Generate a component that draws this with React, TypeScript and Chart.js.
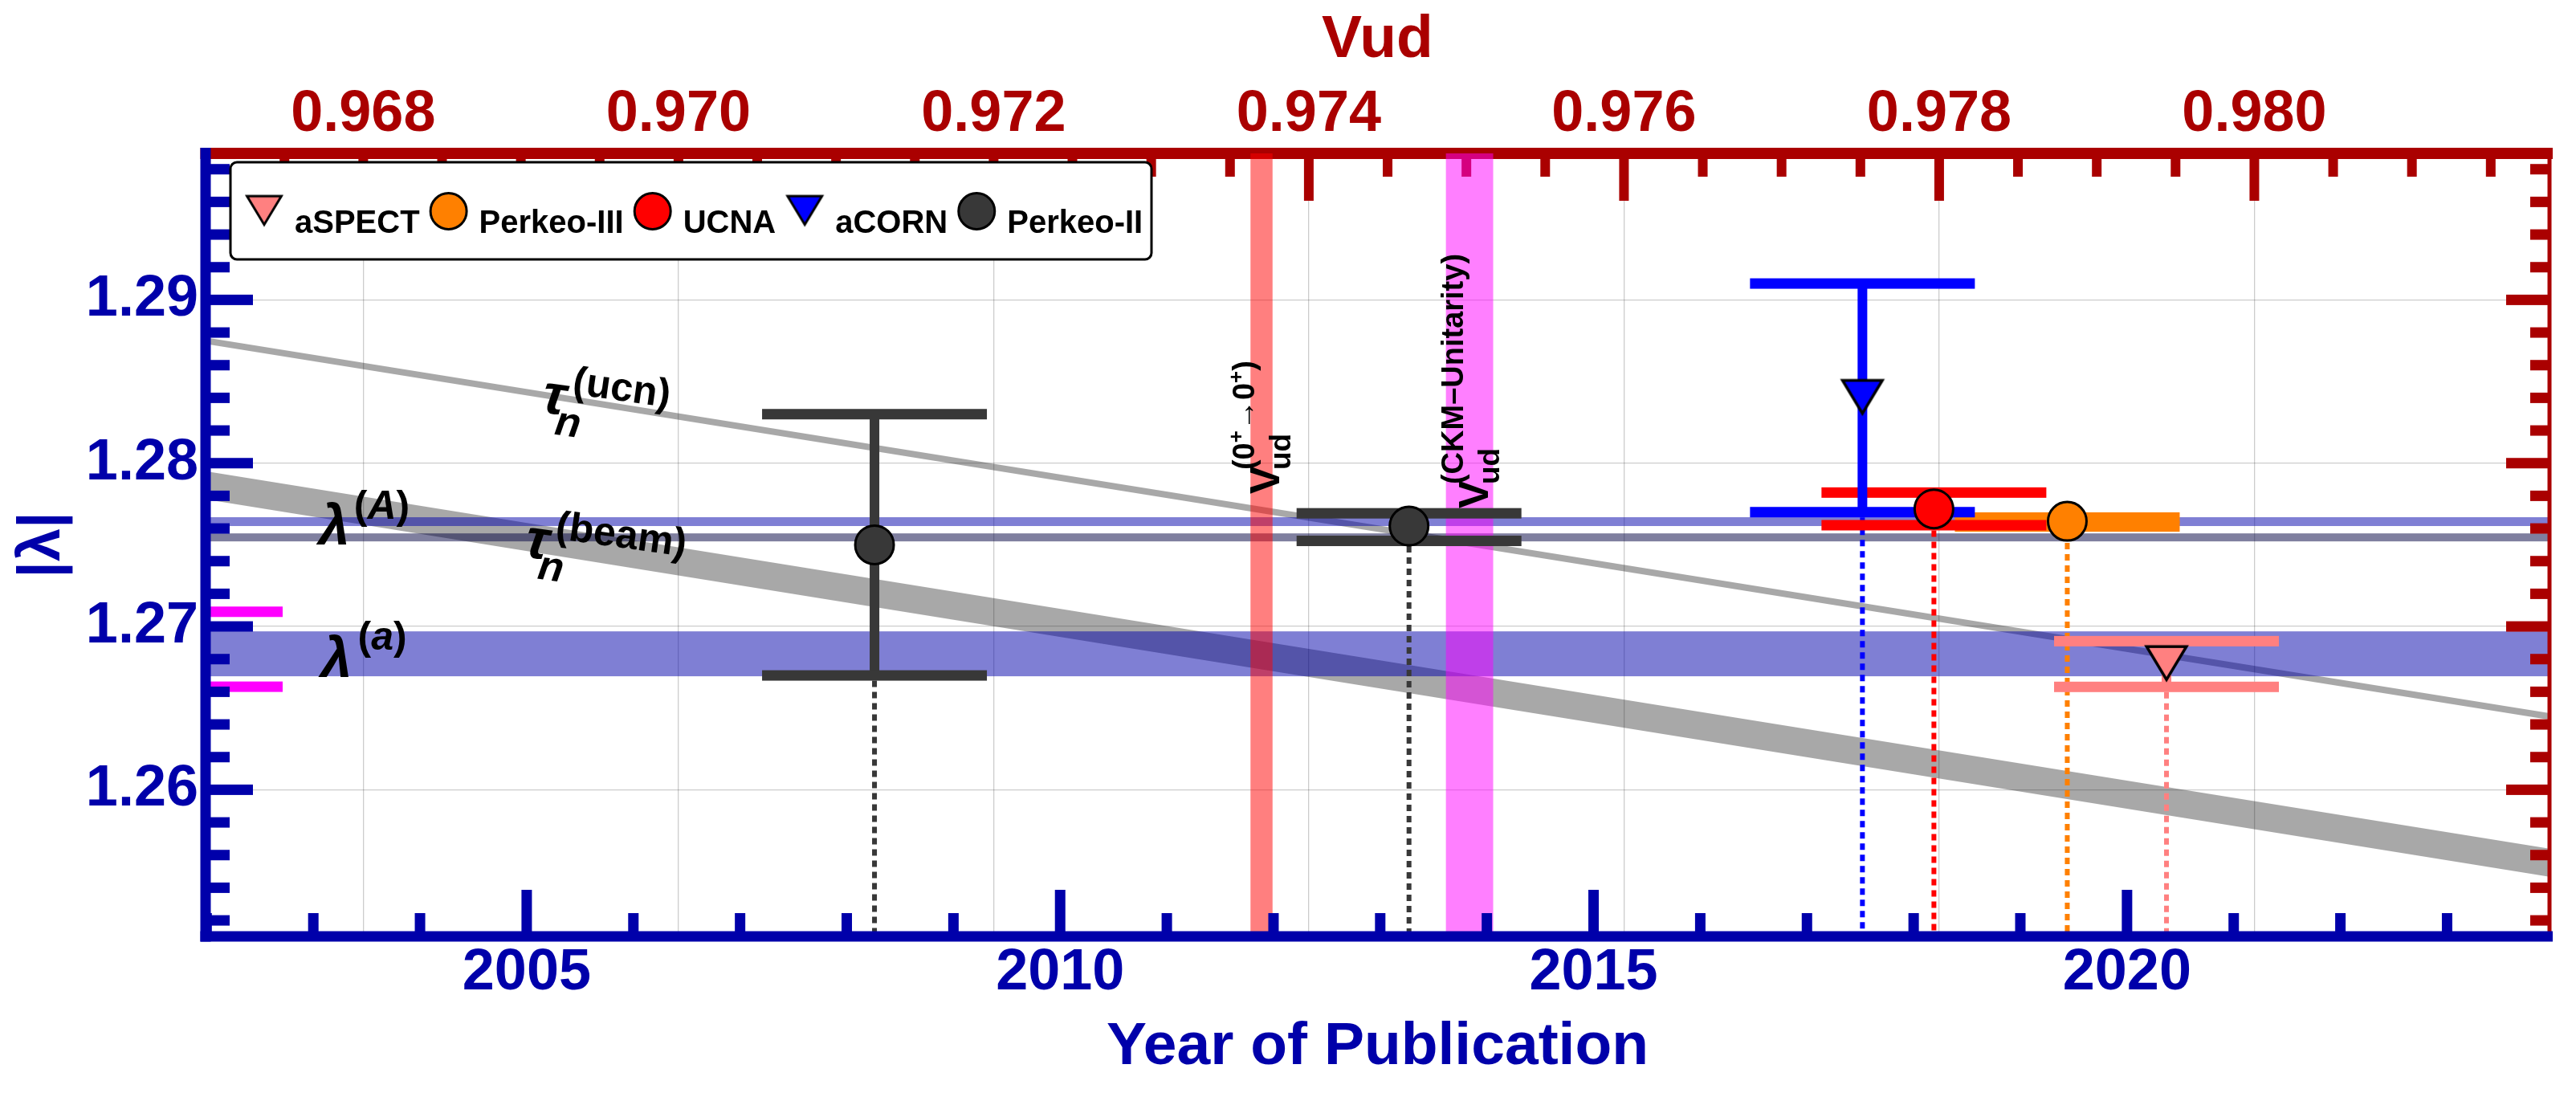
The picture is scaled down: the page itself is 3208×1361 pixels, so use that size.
import React, { useEffect, useRef } from "react";
import { Chart, registerables } from "chart.js";

Chart.register(...registerables);

const FONT = '"Liberation Sans", Arial, Helvetica, sans-serif';
const AXIS_BLUE = "#0000AA";
const AXIS_RED = "#AA0000";

// ---------- axis ranges ----------
const yearRange = [2001.99, 2023.96];
const lambdaRange = [1.25102, 1.29897];
const vudRange = [0.9669994, 0.9818729];

// ---------- tick labels ----------
const yearTicks = [2005, 2010, 2015, 2020];
const lambdaTicks = [1.26, 1.27, 1.28, 1.29];
const vudTicks = [0.968, 0.97, 0.972, 0.974, 0.976, 0.978, 0.98];

// ---------- experiments ----------
const legendNames = ["aSPECT", "Perkeo-III", "UCNA", "aCORN", "Perkeo-II"];

const perkeo2Years = [2008.26, 2013.27];
const perkeo2Lambda = [1.275, 1.27615];
const perkeo2Upper = [1.283, 1.27693];
const perkeo2Lower = [1.267, 1.27524];

const perkeo3Years = [2019.44];
const perkeo3Lambda = [1.27644];
const perkeo3Upper = [1.27667];
const perkeo3Lower = [1.27612];

const ucnaYears = [2018.19];
const ucnaLambda = [1.2772];
const ucnaUpper = [1.2782];
const ucnaLower = [1.2762];

const acornYears = [2017.52];
const acornLambda = [1.284];
const acornUpper = [1.291];
const acornLower = [1.277];

const aspectYears = [2020.37];
const aspectLambda = [1.2677];
const aspectUpper = [1.2691];
const aspectLower = [1.2663];

// ---------- bands ----------
const bandYears = [2001.99, 2023.96];
const tauUcnUpper = [1.2877, 1.26469];
const tauUcnLower = [1.2873, 1.26429];
const tauBeamUpper = [1.27951, 1.25639];
const tauBeamLower = [1.27779, 1.25467];
const lambdaABand = [1.27615, 1.27669];
const lambdaAvgBand = [1.27521, 1.2757];
const lambdaaBand = [1.26695, 1.2697];
const vudSuperallowed = [0.97363, 0.97377];
const vudUnitarity = [0.97487, 0.97517];
const leftMarks = [1.26631, 1.2709];

// ---------- styles ----------
const seriesStyle: any = {
  "Perkeo-II": { color: "#383838", marker: "circle" },
  aSPECT: { color: "#FF8080", marker: "triangle" },
  "Perkeo-III": { color: "#FF8000", marker: "circle" },
  UCNA: { color: "#FF0000", marker: "circle" },
  aCORN: { color: "#0000FF", marker: "triangle" },
};

const series = [
  { name: "Perkeo-II", years: perkeo2Years, values: perkeo2Lambda, upper: perkeo2Upper, lower: perkeo2Lower },
  { name: "aSPECT", years: aspectYears, values: aspectLambda, upper: aspectUpper, lower: aspectLower },
  { name: "Perkeo-III", years: perkeo3Years, values: perkeo3Lambda, upper: perkeo3Upper, lower: perkeo3Lower },
  { name: "UCNA", years: ucnaYears, values: ucnaLambda, upper: ucnaUpper, lower: ucnaLower },
  { name: "aCORN", years: acornYears, values: acornLambda, upper: acornUpper, lower: acornLower },
];

// annotation anchors (data coordinates)
const labelAnchors: any = {
  tauUcn: { year: 2005.13, lambda: 1.28313 },
  tauBeam: { year: 2004.97, lambda: 1.27428 },
  lamA: { year: 2003.05, lambda: 1.27502 },
  lama: { year: 2003.07, lambda: 1.2669 },
  vud1: { vud: 0.973811, lambda: 1.278115 },
  vud2: { vud: 0.975136, lambda: 1.27723 },
};

function stepValues(min: number, max: number, step: number) {
  const out: number[] = [];
  const start = Math.ceil(min / step - 1e-9);
  for (let k = start; k * step <= max + 1e-9; k++) out.push(+(k * step).toFixed(6));
  return out;
}
function isMultiple(v: number, step: number) {
  return Math.abs(v / step - Math.round(v / step)) < 1e-6;
}

function makeTriangle(fill: string, w: number, h: number, lw: number) {
  const c = document.createElement("canvas");
  c.width = w;
  c.height = h;
  const g = c.getContext("2d")!;
  g.beginPath();
  g.moveTo(lw * 1.2, lw * 0.9);
  g.lineTo(w - lw * 1.2, lw * 0.9);
  g.lineTo(w / 2, h - lw * 1.6);
  g.closePath();
  g.fillStyle = fill;
  g.fill();
  g.lineWidth = lw;
  g.lineJoin = "miter";
  g.strokeStyle = "#000";
  g.stroke();
  return c;
}

function drawRuns(ctx: any, runs: any[], x: number, y: number, angle: number) {
  ctx.save();
  ctx.translate(x, y);
  ctx.rotate(angle);
  ctx.textAlign = "left";
  ctx.textBaseline = "alphabetic";
  ctx.fillStyle = "#000";
  let cursor = 0;
  for (const r of runs) {
    if (r.dx !== undefined) cursor = r.dx;
    ctx.font = r.font;
    ctx.fillText(r.text, cursor, r.dy);
    cursor += ctx.measureText(r.text).width;
  }
  ctx.restore();
}

const f = (size: number, style = "") => `${style} bold ${size}px ${FONT}`.trim();

export default function App() {
  const ref = useRef<HTMLCanvasElement>(null);

  useEffect(() => {
    const canvas = ref.current!;
    const triPlot: any = {
      aSPECT: makeTriangle("#FF8080", 58, 50, 3.5),
      aCORN: makeTriangle("#0000FF", 58, 50, 3.5),
    };
    const triLegend: any = {
      aSPECT: makeTriangle("#FF8080", 50, 43, 3),
      aCORN: makeTriangle("#0000FF", 50, 43, 3),
    };

    const overlay = {
      id: "overlay",
      beforeDatasetsDraw(chart: any) {
        const { ctx, chartArea: ca, scales } = chart;
        const xs = scales.x, ys = scales.y, vs = scales.x2;
        const X = (v: number) => xs.getPixelForValue(v);
        const Y = (v: number) => ys.getPixelForValue(v);
        const V = (v: number) => vs.getPixelForValue(v);

        ctx.save();
        ctx.beginPath();
        ctx.rect(ca.left, ca.top, ca.right - ca.left, ca.bottom - ca.top);
        ctx.clip();

        const slant = (up: number[], lo: number[], color: string) => {
          ctx.beginPath();
          ctx.moveTo(X(bandYears[0]), Y(up[0]));
          ctx.lineTo(X(bandYears[1]), Y(up[1]));
          ctx.lineTo(X(bandYears[1]), Y(lo[1]));
          ctx.lineTo(X(bandYears[0]), Y(lo[0]));
          ctx.closePath();
          ctx.fillStyle = color;
          ctx.fill();
        };
        slant(tauUcnUpper, tauUcnLower, "rgba(0,0,0,0.34)");
        slant(tauBeamUpper, tauBeamLower, "rgba(0,0,0,0.34)");

        const hband = (b: number[], color: string) => {
          const a = Y(b[1]), c = Y(b[0]);
          ctx.fillStyle = color;
          ctx.fillRect(ca.left, a, ca.right - ca.left, c - a);
        };
        hband(lambdaABand, "rgba(0,0,170,0.5)");
        hband(lambdaAvgBand, "rgba(0,0,64,0.5)");
        hband(lambdaaBand, "rgba(0,0,170,0.5)");
        ctx.restore();

        // top axis (red)
        ctx.save();
        ctx.fillStyle = AXIS_RED;
        for (const v of stepValues(vudRange[0], vudRange[1], 0.0005)) {
          const px = V(v);
          const len = isMultiple(v, 0.002) ? 59 : 29;
          ctx.fillRect(px - 6, ca.top, 12, len);
        }
        ctx.fillRect(ca.left - 6.5, ca.top - 7, ca.right - ca.left + 10.5, 14);

        // vertical Vud bands
        const vband = (b: number[], color: string) => {
          const a = V(b[0]), c = V(b[1]);
          ctx.fillStyle = color;
          ctx.fillRect(a, ca.top, c - a, ca.bottom - ca.top);
        };
        vband(vudSuperallowed, "rgba(255,0,0,0.5)");
        vband(vudUnitarity, "rgba(255,0,255,0.5)");

        // dotted drop lines
        ctx.lineWidth = 6;
        ctx.setLineDash([8, 6]);
        for (const s of series) {
          const st = seriesStyle[s.name];
          s.years.forEach((yr, i) => {
            ctx.strokeStyle = st.color;
            ctx.beginPath();
            ctx.moveTo(X(yr), Y(s.lower[i]) + 6.5);
            ctx.lineTo(X(yr), ca.bottom);
            ctx.stroke();
          });
        }
        ctx.setLineDash([]);

        // error bars
        for (const s of series) {
          const st = seriesStyle[s.name];
          s.years.forEach((yr, i) => {
            const px = X(yr), ph = Y(s.upper[i]), pl = Y(s.lower[i]);
            ctx.fillStyle = st.color;
            ctx.fillRect(px - 6, ph, 12, pl - ph);
            ctx.fillRect(px - 140, ph - 6.5, 280, 13);
            ctx.fillRect(px - 140, pl - 6.5, 280, 13);
          });
        }
        ctx.restore();
      },
      afterDatasetsDraw(chart: any) {
        const { ctx, chartArea: ca, scales } = chart;
        const xs = scales.x, ys = scales.y, vs = scales.x2;
        const X = (v: number) => xs.getPixelForValue(v);
        const Y = (v: number) => ys.getPixelForValue(v);
        const V = (v: number) => vs.getPixelForValue(v);
        ctx.save();

        // right axis (red)
        ctx.fillStyle = AXIS_RED;
        for (const v of stepValues(lambdaRange[0], lambdaRange[1], 0.002)) {
          const len = isMultiple(v, 0.01) ? 54 : 24;
          ctx.fillRect(ca.right - len, Y(v) - 6.5, len, 13);
        }
        ctx.fillRect(ca.right - 2.5, ca.top - 7, 5, ca.bottom - ca.top + 7);

        // bottom axis (blue)
        ctx.fillStyle = AXIS_BLUE;
        for (const v of stepValues(yearRange[0], yearRange[1], 1)) {
          const len = isMultiple(v, 5) ? 58 : 29;
          ctx.fillRect(X(v) - 6.5, ca.bottom - len, 13, len);
        }
        ctx.fillRect(ca.left - 6.5, ca.bottom - 6.5, ca.right - ca.left + 10.5, 13);

        // magenta marks on left axis
        ctx.fillStyle = "#FF00FF";
        for (const v of leftMarks) ctx.fillRect(ca.left, Y(v) - 6.5, 96, 13);

        // left axis (blue)
        ctx.fillStyle = AXIS_BLUE;
        for (const v of stepValues(lambdaRange[0], lambdaRange[1], 0.002)) {
          const len = isMultiple(v, 0.01) ? 59 : 30;
          ctx.fillRect(ca.left, Y(v) - 6.5, len, 13);
        }
        ctx.fillRect(ca.left - 6.5, ca.top - 7, 13, ca.bottom - ca.top + 13.5);

        // annotations
        const rot = (8 * Math.PI) / 180;
        const a = labelAnchors;
        drawRuns(ctx, [
          { text: "τ", font: f(70, "italic"), dx: 0, dy: 0 },
          { text: "n", font: f(52, "italic"), dx: 20, dy: 25 },
          { text: "(ucn)", font: f(50), dx: 35, dy: -28 },
        ], X(a.tauUcn.year), Y(a.tauUcn.lambda), rot);
        drawRuns(ctx, [
          { text: "τ", font: f(70, "italic"), dx: 0, dy: 0 },
          { text: "n", font: f(52, "italic"), dx: 20, dy: 25 },
          { text: "(beam)", font: f(50), dx: 35, dy: -28 },
        ], X(a.tauBeam.year), Y(a.tauBeam.lambda), rot);
        drawRuns(ctx, [
          { text: "λ", font: f(70, "italic"), dx: 0, dy: 0 },
          { text: "(", font: f(50), dx: 44, dy: -32 },
          { text: "A", font: f(50, "italic"), dy: -32 },
          { text: ")", font: f(50), dy: -32 },
        ], X(a.lamA.year), Y(a.lamA.lambda), 0);
        drawRuns(ctx, [
          { text: "λ", font: f(70, "italic"), dx: 0, dy: 0 },
          { text: "(", font: f(50), dx: 46, dy: -34 },
          { text: "a", font: f(50, "italic"), dy: -34 },
          { text: ")", font: f(50), dy: -34 },
        ], X(a.lama.year), Y(a.lama.lambda), 0);
        drawRuns(ctx, [
          { text: "V", font: f(52), dx: 0, dy: 0 },
          { text: "ud", font: f(37), dx: 30, dy: 14 },
          { text: "(0", font: f(38), dx: 30, dy: -31 },
          { text: "+", font: f(26), dy: -45 },
          { text: "→0", font: f(38), dy: -31 },
          { text: "+", font: f(26), dy: -45 },
          { text: ")", font: f(38), dy: -31 },
        ], V(a.vud1.vud), Y(a.vud1.lambda), -Math.PI / 2);
        drawRuns(ctx, [
          { text: "V", font: f(52), dx: 0, dy: 0 },
          { text: "ud", font: f(37), dx: 30, dy: 14 },
          { text: "(CKM–Unitarity)", font: f(38), dx: 30, dy: -31 },
        ], V(a.vud2.vud), Y(a.vud2.lambda), -Math.PI / 2);

        // legend
        const left = ca.left + 31, top = ca.top + 11, w = 1147, h = 121;
        ctx.beginPath();
        ctx.roundRect(left, top, w, h, 8);
        ctx.fillStyle = "#fff";
        ctx.fill();
        ctx.lineWidth = 3;
        ctx.strokeStyle = "#000";
        ctx.stroke();
        const cy = top + 61, base = top + 88;
        let x = left + 42;
        for (const name of legendNames) {
          const st = seriesStyle[name];
          if (st.marker === "circle") {
            ctx.beginPath();
            ctx.arc(x, cy, 22.5, 0, Math.PI * 2);
            ctx.fillStyle = st.color;
            ctx.fill();
            ctx.lineWidth = 3;
            ctx.strokeStyle = "#000";
            ctx.stroke();
          } else {
            const img = triLegend[name];
            ctx.drawImage(img, x - img.width / 2, cy - img.height / 2);
          }
          const tx = x + 38;
          ctx.font = f(40);
          ctx.fillStyle = "#000";
          ctx.textAlign = "left";
          ctx.textBaseline = "alphabetic";
          ctx.fillText(name, tx, base);
          x = tx + ctx.measureText(name).width + 36;
        }
        ctx.restore();
      },
    };

    const datasets = series.map((s) => {
      const st = seriesStyle[s.name];
      return {
        label: s.name,
        data: s.years.map((yr, i) => ({ x: yr, y: s.values[i] })),
        pointStyle: st.marker === "circle" ? "circle" : triPlot[s.name],
        pointRadius: st.marker === "circle" ? 24 : 25,
        pointBackgroundColor: st.color,
        pointBorderColor: "#000",
        pointBorderWidth: 3,
        showLine: false,
      };
    });

    const tickFont = { family: FONT, size: 72, weight: "bold" as const };
    const titleFont = { family: FONT, size: 75, weight: "bold" as const };
    const gridColor = "rgba(0,0,0,0.2)";

    const chart = new Chart(canvas, {
      type: "scatter",
      data: { datasets },
      options: {
        animation: false,
        responsive: false,
        devicePixelRatio: 1,
        events: [],
        layout: { padding: { left: 0, right: 33, top: 0, bottom: 0 } },
        plugins: { legend: { display: false }, tooltip: { enabled: false } },
        scales: {
          x: {
            type: "linear",
            position: "bottom",
            min: yearRange[0],
            max: yearRange[1],
            bounds: "data",
            afterBuildTicks: (s: any) => { s.ticks = yearTicks.map((v) => ({ value: v })); },
            afterFit: (s: any) => { s.height = 195; },
            grid: { display: false, drawTicks: false },
            border: { display: false },
            ticks: { font: tickFont, color: AXIS_BLUE, padding: 3, autoSkip: false, maxRotation: 0, minRotation: 0, callback: (v: any) => String(v) },
            title: { display: true, text: "Year of Publication", color: AXIS_BLUE, font: titleFont, padding: { top: 0, bottom: 12 } },
          },
          x2: {
            type: "linear",
            position: "top",
            min: vudRange[0],
            max: vudRange[1],
            bounds: "data",
            afterBuildTicks: (s: any) => { s.ticks = vudTicks.map((v) => ({ value: v })); },
            afterFit: (s: any) => { s.height = 191; },
            grid: { display: true, drawTicks: false, color: gridColor, lineWidth: 1.3 },
            border: { display: false },
            ticks: { font: tickFont, color: AXIS_RED, padding: 5, autoSkip: false, maxRotation: 0, minRotation: 0, callback: (v: any) => Number(v).toFixed(3) },
            title: { display: true, text: "Vud", color: AXIS_RED, font: titleFont, padding: { top: 5, bottom: 0 } },
          },
          y: {
            type: "linear",
            position: "left",
            min: lambdaRange[0],
            max: lambdaRange[1],
            bounds: "data",
            afterBuildTicks: (s: any) => { s.ticks = lambdaTicks.map((v) => ({ value: v })); },
            afterFit: (s: any) => { s.width = 256; },
            grid: { display: true, drawTicks: false, color: gridColor, lineWidth: 1.3 },
            border: { display: false },
            ticks: { font: tickFont, color: AXIS_BLUE, padding: 9, autoSkip: false, callback: (v: any) => Number(v).toFixed(2) },
            title: { display: true, text: "|λ|", color: AXIS_BLUE, font: { family: FONT, size: 74, weight: "bold" as const }, padding: { top: 9, bottom: 0 } },
          },
        },
      } as any,
      plugins: [overlay],
    });

    return () => chart.destroy();
  }, []);

  return (
    <div style={{ position: "absolute", left: 0, top: 0, width: 3208, height: 1361, background: "#fff" }}>
      <canvas ref={ref} width={3208} height={1361} style={{ display: "block", width: 3208, height: 1361 }} />
    </div>
  );
}
